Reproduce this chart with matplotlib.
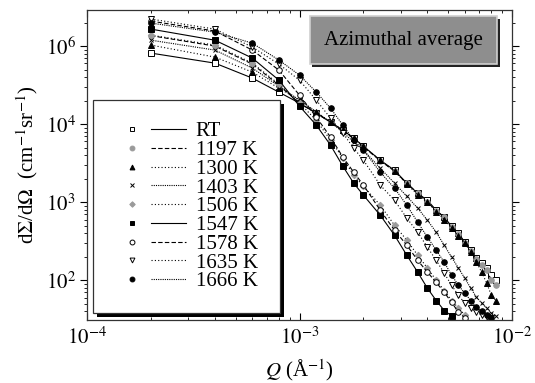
import matplotlib
matplotlib.use('Agg')
import matplotlib.pyplot as plt
import matplotlib.patheffects as pe
from matplotlib.lines import Line2D
from matplotlib.legend_handler import HandlerTuple
import numpy as np

plt.rcParams['font.family'] = 'Liberation Serif'
plt.rcParams['mathtext.fontset'] = 'stix'
plt.rcParams['font.size'] = 15

# DATA _______________________________________________________________________

q = np.array([2, 4, 6, 8, 10, 12, 14, 16, 18, 20, 24, 28, 32, 36, 40, 44, 48,
              52, 56, 60, 64, 68, 72, 76, 80, 84]) * 1e-4

labels = ['RT', '1197 K', '1300 K', '1403 K', '1506 K', '1547 K', '1578 K',
          '1635 K', '1666 K']

i_rt = [8.13e4, 6.05e4, 3.89e4, 2.57e4, 1.86e4, 1.38e4, 1.06e4, 8.38e3, 6.62e3,
        5.22e3, 3.45e3, 2.57e3, 1.75e3, 1.30e3, 1.06e3, 789, 642, 492, 401, 307,
        243, 191, 165, 143, 116, 100]
i_1197 = [1.36e5, 1.0e5, 5.88e4, 3.16e4, 1.86e4, 1.38e4, 1.06e4, 8.2e3, 6.5e3,
          5.1e3, 3.4e3, 2.5e3, 1.75e3, 1.3e3, 1.0e3, 780, 640, 480, 390, 300,
          235, 185, 155, 135, 100, 86]
i_1300 = [1.03e5, 7.23e4, 4.64e4, 2.89e4, 2.03e4, 1.43e4, 1.06e4, 8.4e3, 6.6e3,
          5.2e3, 3.45e3, 2.5e3, 1.7e3, 1.25e3, 1.0e3, 760, 600, 470, 367, 298,
          229, 170, 127, 92, 64, 55]
i_1403 = [1.19e5, 8.89e4, 5.22e4, 3.07e4, 2.03e4, 1.43e4, 1.06e4, 7.89e3, 5.88e3,
          4.64e3, 2.73e3, 1.75e3, 1.19e3, 838, 588, 412, 281, 197, 143, 106,
          79, 61, 51, 44, 38, 35]
i_1506 = [1.38e5, 1.03e5, 6.05e4, 3.26e4, 1.86e4, 1.12e4, 6.24e3, 3.67e3, 2.22e3,
          1.60e3, 915, 507, 326, 209, 143, 100, 74, 55, 44, 36]
i_1547 = [1.65e5, 1.19e5, 7.02e4, 3.66e4, 1.70e4, 9.71e3, 5.38e3, 2.89e3, 1.75e3,
          1.23e3, 681, 378, 209, 127, 79, 55, 41, 35]
i_1578 = [2.09e5, 1.56e5, 8.89e4, 4.92e4, 2.35e4, 1.23e4, 6.81e3, 3.78e3, 2.42e3,
          1.65e3, 789, 438, 281, 180, 127, 94, 70, 52, 39, 33]
i_1635 = [2.22e5, 1.65e5, 9.71e4, 5.88e4, 3.66e4, 2.03e4, 1.19e4, 7.67e3, 4.92e3,
          3.45e3, 1.65e3, 1.06e3, 624, 412, 265, 180, 123, 86, 64, 51, 44, 39,
          36, 34, 33]
i_1666 = [1.97e5, 1.51e5, 1.09e5, 6.62e4, 4.25e4, 2.57e4, 1.60e4, 9.71e3, 6.24e3,
          4.64e3, 2.42e3, 1.51e3, 915, 554, 356, 243, 170, 116, 86, 68, 55, 45,
          40, 36, 33]

xticks = [1e-4, 1e-3, 1e-2]
xtick_labels = ['$10^{-4}$', '$10^{-3}$', '$10^{-2}$']
yticks = [1e2, 1e3, 1e4, 1e5]
ytick_labels = ['$10^2$', '$10^3$', '$10^4$', '$10^6$']

#_____________________________________________________________________________

gray = '#9a9a9a'
series = [i_rt, i_1197, i_1300, i_1403, i_1506, i_1547, i_1578, i_1635, i_1666]
styles = [
    dict(marker='s', ms=4, mfc='white', mec='k', ls='-'),
    dict(marker='o', ms=4, mfc=gray, mec=gray, ls=(0, (4, 2))),
    dict(marker='^', ms=4, mfc='k', mec='k', ls=(0, (1, 2))),
    dict(marker='x', ms=3.5, mfc='k', mec='k', ls=(0, (1, 1))),
    dict(marker='D', ms=3.3, mfc=gray, mec=gray, ls=(0, (1, 2))),
    dict(marker='s', ms=4, mfc='k', mec='k', ls='-'),
    dict(marker='o', ms=4, mfc='white', mec='k', ls=(0, (4, 2))),
    dict(marker='v', ms=4, mfc='white', mec='k', ls=(0, (1, 2))),
    dict(marker='o', ms=4, mfc='k', mec='k', ls=(0, (1, 1))),
]

fig = plt.figure(figsize=(5.35, 3.83), dpi=100)
ax = fig.add_axes([87/535, 63/383, 425/535, 310/383])

for vals, st in zip(series, styles):
    ax.plot(q[:len(vals)], vals, color='k', lw=0.8, ls=st['ls'],
            marker=st['marker'], ms=st['ms'], mfc=st['mfc'], mec=st['mec'], mew=0.7)

ax.set_xscale('log')
ax.set_yscale('log')
ax.set_xlim(1e-4, 1e-2)
ax.set_ylim(31, 2.9e5)
ax.set_xticks(xticks)
ax.set_xticklabels(xtick_labels)
ax.set_yticks(yticks)
ax.set_yticklabels(ytick_labels)
ax.tick_params(which='both', direction='in', top=True, right=True)
ax.tick_params(axis='y', which='both', direction='out', left=True)
ax.tick_params(which='major', length=5, width=0.8)
ax.tick_params(which='minor', length=2.5, width=0.6)
ax.tick_params(axis='x', which='major', pad=5)
ax.tick_params(axis='y', which='major', pad=3)
for s in ax.spines.values():
    s.set_linewidth(0.9)
    s.set_color('#333333')

ax.set_xlabel('$Q$ (Å$^{-1}$)', labelpad=6)
ax.set_ylabel('d$\\Sigma$/d$\\Omega$  (cm$^{-1}$sr$^{-1}$)', labelpad=4)

# legend: marker on the left, line sample on the right
handles = []
for st in styles:
    mk = Line2D([], [], ls='none', marker=st['marker'], ms=st['ms'] - 0.5,
                mfc=st['mfc'], mec=st['mec'], mew=0.7)
    ln = Line2D([], [], ls=st['ls'], color='k', lw=0.8)
    handles.append((mk, ln))

leg = ax.legend(handles, labels, handler_map={tuple: HandlerTuple(ndivide=None, pad=0.05)},
                loc='upper left', bbox_to_anchor=(0.014, 0.71), borderaxespad=0,
                handlelength=3.4, handletextpad=0.48, borderpad=1.05,
                labelspacing=-0.04, fancybox=False, framealpha=1, fontsize=15)
frame = leg.get_frame()
frame.set_edgecolor('#333333')
frame.set_linewidth(0.9)
frame.set_path_effects([pe.SimplePatchShadow(offset=(3, -3), shadow_rgbFace='k', alpha=1),
                        pe.Normal()])

t = ax.text(0.744, 0.903, 'Azimuthal average', transform=ax.transAxes,
            ha='center', va='center', fontsize=15,
            bbox=dict(boxstyle='square,pad=0.68', fc='#8e8e8e', ec='#d0d0d0', lw=1.2))
t.get_bbox_patch().set_path_effects([pe.SimplePatchShadow(offset=(2, -2), shadow_rgbFace='#222222', alpha=1),
                                     pe.Normal()])

fig.savefig('out.png', dpi=100)
